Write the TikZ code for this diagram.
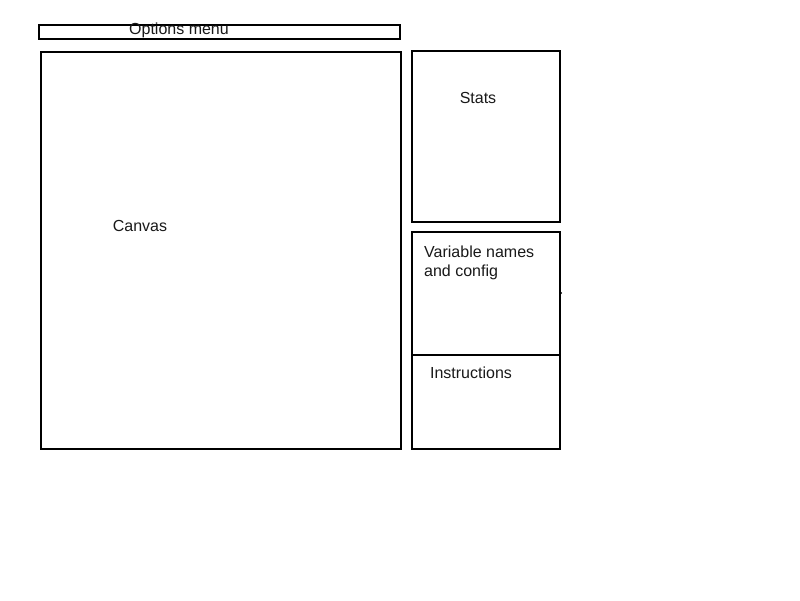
\documentclass[tikz,border=0pt]{standalone}
\usepackage{fontspec}
\setmainfont{Liberation Sans}
\begin{document}
\begin{tikzpicture}[x=1pt,y=-1pt,
  panel/.style={draw=black,line width=2pt},
  lbl/.style={font=\fontsize{16}{19}\selectfont,inner sep=0pt,text=black!90}]
\useasboundingbox[fill=white] (0,0) rectangle (800,600);
\draw[panel] (39,25) rectangle (400,39);
\node[lbl] (opt) at (179,30.5) {Options menu};
\draw[panel] (41,52) rectangle (401,449);
\node[lbl] (canvas) at (140,225.5) {Canvas};
\draw[panel] (412,51) rectangle (560,222);
\node[lbl] (stats) at (478,97.5) {Stats};
\draw[panel] (412,232) rectangle (560,449);
\coordinate (dl) at (412,355);
\coordinate (dr) at (559,355);
\draw[panel] (dl) -- (dr);
\node[lbl,anchor=north west,align=left] (var) at (424,245.5) {Variable names\\and config};
\node[lbl] (instr) at (471,372.5) {Instructions};
\fill[black] (561,293) circle (1pt);
\end{tikzpicture}
\end{document}
